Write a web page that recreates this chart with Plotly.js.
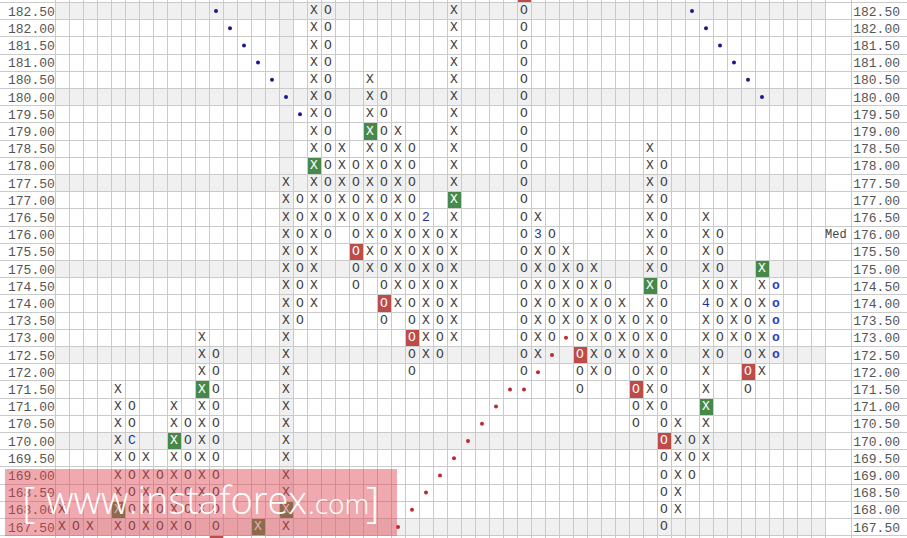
<!DOCTYPE html>
<html>
<head>
<meta charset="utf-8">
<script src="https://cdn.plot.ly/plotly-3.0.1.min.js"></script>
<style>html,body{margin:0;padding:0;background:#fff;}#chart{width:907px;height:538px;}</style>
</head>
<body>
<div id="chart"></div>
<script>
// ---------------- DATA ----------------
const tickPrices = [182.5,182.0,181.5,181.0,180.5,180.0,179.5,179.0,178.5,178.0,177.5,177.0,176.5,176.0,175.5,175.0,174.5,174.0,173.5,173.0,172.5,172.0,171.5,171.0,170.5,170.0,169.5,169.0,168.5,168.0,167.5];
const tickLabels = ['182.50','182.00','181.50','181.00','180.50','180.00','179.50','179.00','178.50','178.00','177.50','177.00','176.50','176.00','175.50','175.00','174.50','174.00','173.50','173.00','172.50','172.00','171.50','171.00','170.50','170.00','169.50','169.00','168.50','168.00','167.50'];

// point & figure columns
const colIndex = [0, 1, 2, 4, 5, 6, 7, 8, 9, 10, 11, 14, 16, 17, 18, 19, 20, 21, 22, 23, 24, 25, 26, 27, 28, 33, 34, 35, 36, 37, 38, 39, 40, 41, 42, 43, 44, 45, 46, 47, 48, 49, 50, 51];
const colType  = ['X','O','X','X','O','X','O','X','O','X','O','X','X','O','X','O','X','O','X','O','X','O','X','O','X','O','X','O','X','O','X','O','X','O','X','O','X','O','X','O','X','O','X','o'];
const colLow   = [167.5,167.5,167.5,167.5,167.5,167.5,167.5,167.5,167.5,168.0,167.0,167.5,167.5,173.5,174.0,176.0,176.5,174.5,175.0,173.5,174.0,172.0,172.5,172.5,173.0,172.0,172.5,173.0,173.5,171.5,172.0,172.0,172.5,170.5,171.0,167.5,168.0,169.0,169.5,172.5,173.0,171.5,172.0,172.5];
const colHigh  = [168.0,167.5,167.5,171.5,171.0,169.5,169.0,171.0,170.5,173.0,172.5,167.5,177.5,177.0,182.5,182.5,178.5,178.0,180.5,180.0,179.0,178.5,176.5,176.0,182.5,183.0,176.5,176.0,175.5,175.0,175.0,174.5,174.0,173.5,178.5,178.0,170.5,170.0,176.5,176.0,174.5,174.0,175.0,174.5];

// highlighted boxes
const greenBoxCol   = [4, 8, 10, 14, 16, 18, 22, 28, 42, 46, 50];
const greenBoxPrice = [168.0, 170.0, 171.5, 167.5, 168.0, 178.0, 179.0, 177.0, 174.5, 171.0, 175.0];
const redBoxCol     = [11, 21, 23, 25, 33, 37, 41, 43, 49];
const redBoxPrice   = [167.0, 175.5, 174.0, 173.0, 183.0, 172.5, 171.5, 170.0, 172.0];

// month markers replacing a symbol
const markCol   = [5, 26, 34, 46];
const markPrice = [170.0, 176.5, 176.0, 174.0];
const markText  = ['C', '2', '3', '4'];

// trend lines (dots)
const blueDotCol   = [11, 12, 13, 14, 15, 16, 17, 45, 46, 47, 48, 49, 50];
const blueDotPrice = [182.5, 182.0, 181.5, 181.0, 180.5, 180.0, 179.5, 182.5, 182.0, 181.5, 181.0, 180.5, 180.0];
const redDotCol    = [24, 25, 26, 27, 28, 29, 30, 31, 32, 33, 34, 35, 36];
const redDotPrice  = [167.5, 168.0, 168.5, 169.0, 169.5, 170.0, 170.5, 171.0, 171.5, 171.5, 172.0, 172.5, 173.0];

const shadedRowPrices = [182.5, 180.0, 177.5, 175.0, 172.5, 170.0, 167.5];
const shadedCols = [16];
const medianPrice = 176.0;

// ---------------- BUILD ----------------
const PX0 = 62, COLW = 14;                // px of column 0 centre, column width
const xOf = px => (px - PX0) / COLW;
const X_RANGE = [xOf(0), xOf(907)];
const Y_RANGE = [182.5 - 527/34.4, 182.5 + 11/34.4];
const LAST_COL = 54;
const PMIN = Math.min(...tickPrices), PMAX = Math.max(...tickPrices);

const key = (c, p) => c + '_' + Math.round(p * 2);
const boxed = {};
greenBoxCol.forEach((c, i) => boxed[key(c, greenBoxPrice[i])] = 'g');
redBoxCol.forEach((c, i) => boxed[key(c, redBoxPrice[i])] = 'r');
const marked = {};
markCol.forEach((c, i) => marked[key(c, markPrice[i])] = true);

const xs = {X: [], O: [], o: []}, ys = {X: [], O: [], o: []};
const wx = [], wy = [], wt = [];
colIndex.forEach((c, i) => {
  const t = colType[i];
  for (let k = Math.round(colLow[i] * 2); k <= Math.round(colHigh[i] * 2); k++) {
    const p = k / 2;
    if (p < PMIN || p > PMAX) continue;   // only the symbol of a partly visible cell is hidden, its box stays
    const kk = key(c, p);
    if (marked[kk]) continue;
    if (boxed[kk]) { wx.push(c); wy.push(p); wt.push(t); continue; }
    xs[t].push(c); ys[t].push(p);
  }
});

const mono = 'Liberation Mono, Courier New, monospace';
const traces = [
  {x: xs.X, y: ys.X, mode: 'text', text: xs.X.map(() => 'X'), textfont: {family: mono, size: 13, color: '#404040'}, hoverinfo: 'skip'},
  {x: xs.O, y: ys.O, mode: 'text', text: xs.O.map(() => 'O'), textfont: {family: mono, size: 13, color: '#404040'}, hoverinfo: 'skip'},
  {x: xs.o, y: ys.o, mode: 'text', text: xs.o.map(() => 'o'), textfont: {family: mono, size: 13, color: '#2a3cc8', weight: 'bold'}, hoverinfo: 'skip'},
  {x: wx, y: wy, mode: 'text', text: wt, textfont: {family: mono, size: 13, color: '#ffffff'}, hoverinfo: 'skip'},
  {x: markCol, y: markPrice, mode: 'text', text: markText, textfont: {family: mono, size: 13, color: '#1f2d9e'}, hoverinfo: 'skip'},
  {x: blueDotCol, y: blueDotPrice, mode: 'markers', marker: {size: 4, color: '#1a1a8c'}, hoverinfo: 'skip'},
  {x: redDotCol, y: redDotPrice, mode: 'markers', marker: {size: 4, color: '#c0282d'}, hoverinfo: 'skip'},
  {x: [0], y: [175], yaxis: 'y2', mode: 'markers', marker: {size: 1, opacity: 0}, hoverinfo: 'skip'}
];

const shapes = [];
shadedRowPrices.forEach(p => shapes.push({type: 'rect', xref: 'x', yref: 'y', x0: -0.5, x1: LAST_COL + 0.5, y0: p - 0.25, y1: p + 0.25, fillcolor: '#f0f0f0', line: {width: 0}, layer: 'below'}));
shadedCols.forEach(c => shapes.push({type: 'rect', xref: 'x', yref: 'paper', x0: c - 0.5, x1: c + 0.5, y0: 0, y1: 1, fillcolor: '#f0f0f0', line: {width: 0}, layer: 'below'}));
greenBoxCol.forEach((c, i) => shapes.push({type: 'rect', xref: 'x', yref: 'y', x0: c - 0.5, x1: c + 0.5, y0: greenBoxPrice[i] - 0.25, y1: greenBoxPrice[i] + 0.25, fillcolor: '#47894a', line: {width: 0}, layer: 'below'}));
redBoxCol.forEach((c, i) => shapes.push({type: 'rect', xref: 'x', yref: 'y', x0: c - 0.5, x1: c + 0.5, y0: redBoxPrice[i] - 0.25, y1: redBoxPrice[i] + 0.25, fillcolor: '#bd4b48', line: {width: 0}, layer: 'below'}));
// watermark band
shapes.push({type: 'rect', xref: 'paper', yref: 'paper', x0: 5/907, x1: 397/907, y0: 2/538, y1: 69/538, fillcolor: 'rgba(222,70,80,0.46)', line: {width: 0}, layer: 'above'});

// grid boundaries
const xBounds = [];
for (let c = 0; c <= LAST_COL + 1; c++) xBounds.push(c - 0.5);
xBounds.push(xOf(851));
const yBounds = [];
for (let k = 333; k <= 367; k++) yBounds.push(k / 2 + 0.25);

const wmFont = (s) => ({family: 'Open Sans, sans-serif', size: s, color: '#ffffff', weight: 300});
const annotations = [
  {xref: 'x', yref: 'y', x: xOf(849), y: medianPrice, text: 'Med', showarrow: false, xanchor: 'right', font: {family: mono, size: 12, color: '#444'}},
  {xref: 'paper', yref: 'paper', x: 20/907, y: 1 - 501/538, text: '[', showarrow: false, xanchor: 'left', yanchor: 'middle', font: wmFont(42)},
  {xref: 'paper', yref: 'paper', x: 44/907, y: 1 - 499/538, text: 'www.instaforex', showarrow: false, xanchor: 'left', yanchor: 'middle', font: wmFont(38)},
  {xref: 'paper', yref: 'paper', x: 306/907, y: 1 - 503/538, text: '.com', showarrow: false, xanchor: 'left', yanchor: 'middle', font: wmFont(28)},
  {xref: 'paper', yref: 'paper', x: 364/907, y: 1 - 501/538, text: ']', showarrow: false, xanchor: 'left', yanchor: 'middle', font: wmFont(42)}
];

const layout = {
  width: 907, height: 538,
  margin: {l: 0, r: 0, t: 0, b: 0, pad: 0},
  paper_bgcolor: '#ffffff', plot_bgcolor: '#ffffff',
  showlegend: false,
  xaxis: {range: X_RANGE, tickmode: 'array', tickvals: xBounds, showticklabels: false, ticks: '', showgrid: true, gridcolor: '#cacaca', gridwidth: 1, zeroline: false, showline: false, fixedrange: true},
  yaxis: {range: Y_RANGE, tickmode: 'array', tickvals: tickPrices, ticktext: tickLabels, ticklabelposition: 'inside', ticklabelstandoff: 5, ticks: '', showgrid: false, zeroline: false, showline: false, fixedrange: true,
          tickfont: {family: mono, size: 13, color: '#555'},
          minor: {tickmode: 'array', tickvals: yBounds, showgrid: true, gridcolor: '#cacaca', gridwidth: 1, ticks: ''}},
  yaxis2: {range: Y_RANGE, overlaying: 'y', side: 'right', tickmode: 'array', tickvals: tickPrices, ticktext: tickLabels, ticklabelposition: 'inside', ticklabelstandoff: 4, ticks: '', showgrid: false, zeroline: false, showline: false, fixedrange: true,
           tickfont: {family: mono, size: 13, color: '#555'}},
  shapes: shapes,
  annotations: annotations
};

Plotly.newPlot('chart', traces, layout, {staticPlot: true, displayModeBar: false});
</script>
</body>
</html>
